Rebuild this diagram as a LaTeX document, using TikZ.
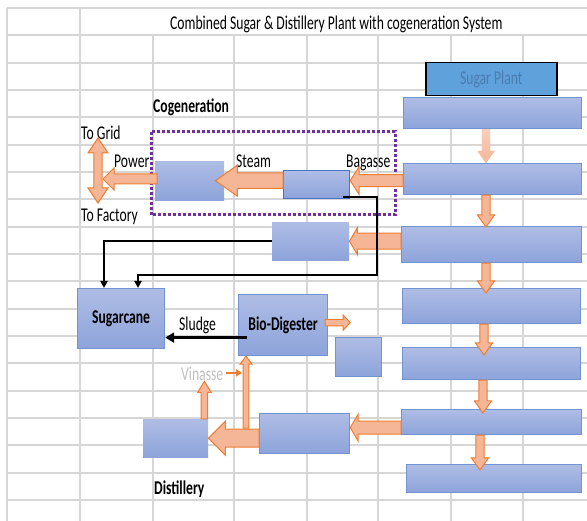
\documentclass[tikz,border=0pt]{standalone}
\usepackage{fontspec}
\setmainfont{Carlito}[FakeStretch=0.7]
\usetikzlibrary{arrows.meta, calc}
\definecolor{gridgray}{HTML}{D6D6D6}
\definecolor{boxtop}{HTML}{AFBDE5}
\definecolor{boxbot}{HTML}{8DA3DA}
\definecolor{boxline}{HTML}{7293D2}
\definecolor{boilline}{HTML}{4472C4}
\definecolor{spfill}{HTML}{5FA1DB}
\definecolor{sptext}{HTML}{4A7CB2}
\definecolor{arrfill}{HTML}{F5B697}
\definecolor{arrline}{HTML}{ED7D31}
\definecolor{framepurple}{HTML}{7030A0}
\definecolor{vingray}{HTML}{BFBFBF}

\newcommand{\lblsize}{\fontsize{19.5}{22}\selectfont}

% block arrow: [style]{from}{to}{shaft half}{head half}{head length}
\newcommand{\blockarrow}[6][]{%
  \coordinate (ba-s) at (#2);
  \coordinate (ba-e) at (#3);
  \coordinate (ba-h) at ($(ba-e)!#6!(ba-s)$);
  \path[barrow,#1] ($(ba-s)!#4!90:(ba-e)$) -- ($(ba-h)!#4!90:(ba-e)$)
    -- ($(ba-h)!#5!90:(ba-e)$) -- (ba-e) -- ($(ba-h)!#5!-90:(ba-e)$)
    -- ($(ba-h)!#4!-90:(ba-e)$) -- ($(ba-s)!#4!-90:(ba-e)$) -- cycle;}

% same, with a head at both ends
\newcommand{\dblarrow}[6][]{%
  \coordinate (da-s) at (#2);
  \coordinate (da-e) at (#3);
  \coordinate (da-h) at ($(da-s)!#6!(da-e)$);
  \coordinate (da-k) at ($(da-e)!#6!(da-s)$);
  \path[barrow,#1] (da-s) -- ($(da-h)!#5!90:(da-e)$) -- ($(da-h)!#4!90:(da-e)$)
    -- ($(da-k)!#4!90:(da-e)$) -- ($(da-k)!#5!90:(da-e)$) -- (da-e)
    -- ($(da-k)!#5!-90:(da-e)$) -- ($(da-k)!#4!-90:(da-e)$)
    -- ($(da-h)!#4!-90:(da-e)$) -- ($(da-h)!#5!-90:(da-e)$) -- cycle;}

\begin{document}
\begin{tikzpicture}[
  x=1pt, y=-1pt,
  gridline/.style={gridgray, line width=2pt},
  boxbase/.style={anchor=north west, inner sep=0pt, font=\lblsize\bfseries},
  box/.style={boxbase, draw=boxline, line width=1.2pt, top color=boxtop, bottom color=boxbot},
  boxnb/.style={boxbase, top color=boxtop, bottom color=boxbot},
  barrow/.style={fill=arrfill, draw=arrline, line width=1pt, line join=miter},
  fade/.style={draw=none, top color=arrfill!65, bottom color=arrfill},
  feed/.style={draw=black, line width=2pt, -{Triangle[length=7pt, width=7pt]}},
  sludgeline/.style={feed, line width=3.3pt, -{Triangle[length=9pt, width=10pt]}},
  orline/.style={draw=arrline, line width=2pt, -{Triangle[length=6pt, width=7pt]}},
  cogenframe/.style={draw=framepurple, line width=3pt, dash pattern=on 3pt off 2pt},
  lbl/.style={anchor=base west, inner sep=0pt, font=\lblsize},
]
\useasboundingbox (0,0) rectangle (587,521);

% spreadsheet grid
\foreach \k in {0,...,18}
  \draw[gridline] (7,8+27.33*\k) -- (587,8+27.33*\k);
\draw[gridline] (7,8) -- (7,521);
\draw[gridline] (80,8) -- (80,521);
\foreach \gx in {153,234,307,378,451,523}
  \draw[gridline] (\gx,35.3) -- (\gx,521);

% cogeneration frame
\draw[cogenframe] (151,132) rectangle (395,215);

% sugar plant column
\node[boxbase, draw=black, line width=1.5pt, fill=spfill, text=sptext,
  font=\lblsize, minimum width=131pt, minimum height=33pt] (sp) at (425,62) {Sugar Plant};
\node[box, minimum width=178pt, minimum height=31pt] (s1) at (403,97) {};
\node[box, minimum width=178pt, minimum height=31pt] (s2) at (403,163) {};
\node[box, minimum width=180pt, minimum height=36pt] (s3) at (401,226) {};
\node[box, minimum width=178pt, minimum height=35pt] (s4) at (402,288) {};
\node[box, minimum width=178pt, minimum height=32pt] (s5) at (402,347) {};
\node[box, minimum width=180pt, minimum height=25pt] (s6) at (401,409) {};
\node[box, minimum width=175pt, minimum height=28pt] (s7) at (406,464) {};

% other units
\node[boxnb, minimum width=69pt, minimum height=39pt] (turb) at (155,161) {};
\node[box, draw=boilline, minimum width=66pt, minimum height=28pt] (boil) at (283,170) {};
\node[boxnb, minimum width=77pt, minimum height=38pt] (c3) at (272,222) {};
\node[box, minimum width=87pt, minimum height=60pt] (cane) at (77,288) {Sugarcane};
\node[box, minimum width=89pt, minimum height=61pt] (bio) at (238,294) {Bio-Digester};
\node[box, minimum width=46pt, minimum height=39pt] (bsm) at (335,337) {};
\node[box, minimum width=90pt, minimum height=40pt] (dmain) at (259,413) {};
\node[boxnb, minimum width=65pt, minimum height=38pt] (dleft) at (143,419) {};

% labels
\node[lbl] (title) at (170,29.5) {Combined Sugar \& Distillery Plant with cogeneration System};
\node[lbl, font=\lblsize\bfseries] (cogen) at (153,112.5) {Cogeneration};
\node[lbl] (togrid) at (81,140) {To Grid};
\node[lbl] (power) at (114,168) {Power};
\node[lbl] (steam) at (236,168) {Steam};
\node[lbl] (bagasse) at (346,168) {Bagasse};
\node[lbl] (tofact) at (81,221.5) {To Factory};
\node[lbl] (sludge) at (179,331) {Sludge};
\node[lbl, text=vingray] (vin) at (181,381) {Vinasse};
\node[lbl, font=\lblsize\bfseries] (distil) at (154,495) {Distillery};

% sugar plant flow
\coordinate (flowx) at (486,0);
\blockarrow[fade]{s1.south -| flowx}{s2.north -| flowx}{4.2pt}{8.5pt}{12pt}
\blockarrow{s2.south -| flowx}{$(s3.north -| flowx)+(0,1)$}{4.2pt}{8.5pt}{12pt}
\blockarrow{s3.south -| flowx}{$(s4.north -| flowx)+(0,5)$}{4.2pt}{8.5pt}{12pt}
\blockarrow{$(s4.south -| flowx)+(-2,0)$}{$(s5.north -| flowx)+(-2,8)$}{4.2pt}{8.5pt}{12pt}
\blockarrow{$(s5.south -| flowx)+(-3,0)$}{$(s6.north -| flowx)+(-3,4)$}{4.2pt}{8.5pt}{12pt}
\blockarrow{$(s6.south -| flowx)+(-6,0)$}{$(s7.north -| flowx)+(-6,6)$}{4.2pt}{8.5pt}{12pt}

% cogeneration
\coordinate (bagtip) at ($(boil.east)+(0,-4)$);
\blockarrow{bagtip -| s2.west}{bagtip}{6pt}{14pt}{9pt}
\coordinate (steamtip) at ($(turb.east)+(-9,0)$);
\blockarrow{steamtip -| boil.west}{steamtip}{7.8pt}{15.5pt}{22pt}
\coordinate (powtip) at (103,179);
\blockarrow{$(powtip -| turb.west)+(2,0)$}{powtip}{5pt}{11pt}{11pt}
\coordinate (gridend) at (98,138);
\coordinate (factend) at (98,203);
\dblarrow{gridend}{factend}{4.2pt}{10pt}{15pt}
\blockarrow{c3.east -| s3.west}{c3.east}{8pt}{13.5pt}{8pt}

% distillery
\coordinate (dtip) at ($(dmain.east)+(0,-6)$);
\blockarrow{dtip -| s6.west}{dtip}{6.5pt}{13.5pt}{8pt}
\blockarrow{dleft.east -| dmain.west}{dleft.east}{9pt}{17pt}{17pt}
\coordinate (vinbase) at ($(dleft.north east)+(-4,0)$);
\blockarrow{vinbase}{vinbase |- vin.south}{3.3pt}{6.7pt}{11pt}
\coordinate (bioin) at ($(bio.south west)+(8,0)$);
\blockarrow{$(bioin)+(0,72)$}{bioin}{2.8pt}{6pt}{8pt}
\blockarrow{$(bio.east)+(-3,-2.5)$}{$(bio.east)+(22,-2.5)$}{3.3pt}{7.5pt}{7pt}
\draw[orline] ($(vin.east)+(3,-1.5)$) -- ($(vin.east -| bioin)+(-4,-1.5)$);

% feed lines to sugarcane
\coordinate (bout) at ($(boil.south east)+(-7,-2)$);
\coordinate (drop) at (377,275);
\draw[feed] (bout) -| (drop) -| ($(cane.north west)+(61,0)$);
\draw[feed] (c3.west) -| ($(cane.north west)+(27,0)$);
\coordinate (sludge0) at ($(bio.west)+(9,12.5)$);
\draw[sludgeline] (sludge0) -- (sludge0 -| cane.east);

\end{tikzpicture}
\end{document}
